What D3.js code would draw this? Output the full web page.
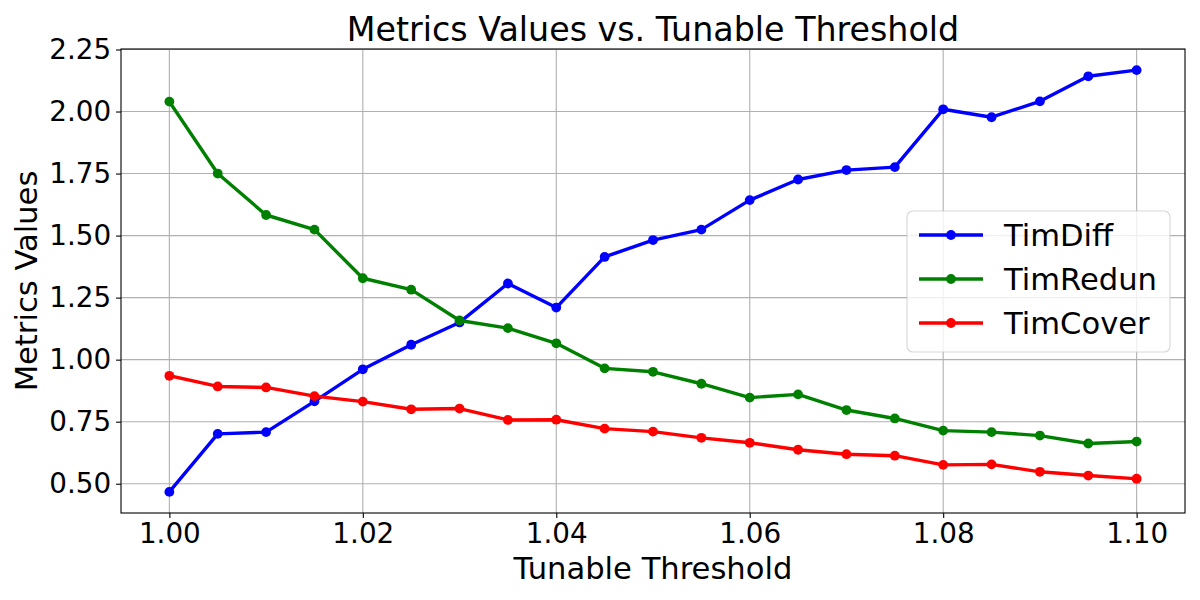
<!DOCTYPE html>
<html>
<head>
<meta charset="utf-8">
<script src="https://cdn.jsdelivr.net/npm/d3@7"></script>
<style>
  html, body { margin: 0; padding: 0; background: #fff; }
  svg { display: block; font-family: "DejaVu Sans", sans-serif; }
</style>
</head>
<body>
<svg id="chart" width="1200" height="600"></svg>
<script>
const thresholds = [1.000, 1.005, 1.010, 1.015, 1.020, 1.025, 1.030, 1.035, 1.040, 1.045, 1.050,
                    1.055, 1.060, 1.065, 1.070, 1.075, 1.080, 1.085, 1.090, 1.095, 1.100];
const timDiff = [0.467, 0.701, 0.708, 0.832, 0.961, 1.060, 1.150, 1.307, 1.210, 1.414, 1.482,
                 1.524, 1.643, 1.726, 1.764, 1.776, 2.009, 1.977, 2.041, 2.142, 2.167];
const timRedun = [2.040, 1.750, 1.583, 1.524, 1.328, 1.282, 1.158, 1.127, 1.066, 0.965, 0.951,
                  0.903, 0.847, 0.860, 0.797, 0.763, 0.714, 0.708, 0.694, 0.662, 0.670];
const timCover = [0.935, 0.892, 0.888, 0.853, 0.831, 0.800, 0.803, 0.757, 0.758, 0.722, 0.710,
                  0.685, 0.665, 0.637, 0.619, 0.613, 0.576, 0.578, 0.548, 0.533, 0.520];
const seriesNames = ["TimDiff", "TimRedun", "TimCover"];
const seriesColors = ["#0000ff", "#008000", "#ff0000"];
const xTicks = [1.00, 1.02, 1.04, 1.06, 1.08, 1.10];
const yTicks = [0.50, 0.75, 1.00, 1.25, 1.50, 1.75, 2.00, 2.25];
const titleText = "Metrics Values vs. Tunable Threshold";
const xLabel = "Tunable Threshold";
const yLabel = "Metrics Values";

const series = [timDiff, timRedun, timCover].map((vals, i) => ({
  name: seriesNames[i], color: seriesColors[i],
  points: thresholds.map((t, j) => ({ x: t, y: vals[j] }))
}));

const svg = d3.select("#chart");
const L = 121, R = 1185, T = 49, B = 513;

// matplotlib-style 5% margins
const allY = [].concat(timDiff, timRedun, timCover);
const xMin = d3.min(thresholds), xMax = d3.max(thresholds);
const yMin = d3.min(allY), yMax = d3.max(allY);
const xPad = (xMax - xMin) * 0.05, yPad = (yMax - yMin) * 0.05;

const x = d3.scaleLinear().domain([xMin - xPad, xMax + xPad]).range([L, R]);
const y = d3.scaleLinear().domain([yMin - yPad, yMax + yPad]).range([B, T]);

// grid
const grid = svg.append("g");
grid.selectAll("line.vx").data(xTicks).enter().append("line")
  .attr("x1", d => x(d)).attr("x2", d => x(d)).attr("y1", T).attr("y2", B)
  .attr("stroke", "#b0b0b0").attr("stroke-width", 1.1);
grid.selectAll("line.hy").data(yTicks).enter().append("line")
  .attr("y1", d => y(d)).attr("y2", d => y(d)).attr("x1", L).attr("x2", R)
  .attr("stroke", "#b0b0b0").attr("stroke-width", 1.1);

// series
const line = d3.line().x(d => x(d.x)).y(d => y(d.y));
series.forEach(s => {
  const g = svg.append("g");
  g.append("path").datum(s.points).attr("d", line)
    .attr("fill", "none").attr("stroke", s.color).attr("stroke-width", 3.4)
    .attr("stroke-linejoin", "round").attr("stroke-linecap", "square");
  g.selectAll("circle").data(s.points).enter().append("circle")
    .attr("cx", d => x(d.x)).attr("cy", d => y(d.y)).attr("r", 4.9)
    .attr("fill", s.color);
});

// axes
const xAxis = d3.axisBottom(x).tickValues(xTicks).tickFormat(d3.format(".2f"))
  .tickSize(4.9).tickPadding(4.9).tickSizeOuter(0);
const yAxis = d3.axisLeft(y).tickValues(yTicks).tickFormat(d3.format(".2f"))
  .tickSize(4.9).tickPadding(4.9).tickSizeOuter(0);
const gx = svg.append("g").attr("transform", `translate(0,${B})`).call(xAxis);
const gy = svg.append("g").attr("transform", `translate(${L},0)`).call(yAxis);
[gx, gy].forEach(g => {
  g.select(".domain").remove();
  g.selectAll(".tick line").attr("stroke", "#000").attr("stroke-width", 1.1);
  g.selectAll(".tick text").attr("fill", "#000").attr("font-size", "27.8px")
    .attr("font-family", "DejaVu Sans");
});

// spines
svg.append("rect").attr("x", L).attr("y", T).attr("width", R - L).attr("height", B - T)
  .attr("fill", "none").attr("stroke", "#000").attr("stroke-width", 1.1);

// title & labels
svg.append("text").attr("x", (L + R) / 2).attr("y", 41).attr("text-anchor", "middle")
  .attr("font-size", "33.3px").attr("fill", "#000").text(titleText);
svg.append("text").attr("x", (L + R) / 2).attr("y", 579).attr("text-anchor", "middle")
  .attr("font-size", "30.6px").attr("fill", "#000").text(xLabel);
svg.append("text").attr("transform", `translate(37,${(T + B) / 2}) rotate(-90)`)
  .attr("text-anchor", "middle").attr("font-size", "30.6px").attr("fill", "#000").text(yLabel);

// legend
const lg = svg.append("g");
lg.append("rect").attr("x", 907).attr("y", 211).attr("width", 263).attr("height", 141)
  .attr("rx", 6).attr("ry", 6)
  .attr("fill", "rgba(255,255,255,0.8)").attr("stroke", "rgba(204,204,204,0.8)").attr("stroke-width", 1.1);
series.forEach((s, i) => {
  const cy = 235 + i * 44;
  lg.append("line").attr("x1", 919).attr("x2", 983).attr("y1", cy).attr("y2", cy)
    .attr("stroke", s.color).attr("stroke-width", 3.4);
  lg.append("circle").attr("cx", 951).attr("cy", cy).attr("r", 4.9).attr("fill", s.color);
  lg.append("text").attr("x", 1004).attr("y", cy).attr("dy", "0.36em")
    .attr("font-size", "30.6px").attr("fill", "#000").text(s.name);
});
</script>
</body>
</html>
